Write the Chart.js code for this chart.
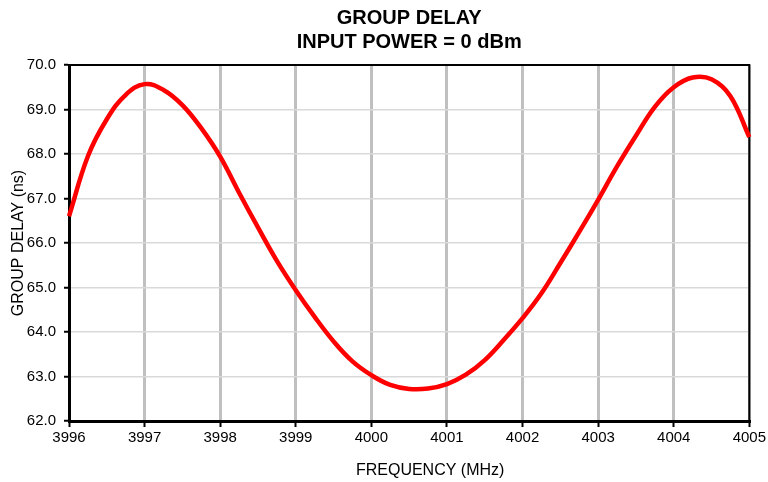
<!DOCTYPE html>
<html>
<head>
<meta charset="utf-8">
<script src="https://cdn.jsdelivr.net/npm/chart.js@4/dist/chart.umd.min.js"></script>
<style>
  html, body { margin: 0; padding: 0; background: #fff; }
  #wrap { width: 768px; height: 482px; }
</style>
</head>
<body>
<div id="wrap"><canvas id="c" width="768" height="482"></canvas></div>
<script>
const titleLines = ['GROUP DELAY', 'INPUT POWER = 0 dBm'];
const xTitle = 'FREQUENCY (MHz)';
const yTitle = 'GROUP DELAY (ns)';

const frequency = [
  3996.00, 3996.25, 3996.50, 3996.75, 3997.00, 3997.25, 3997.50, 3997.75,
  3998.00, 3998.25, 3998.50, 3998.75, 3999.00, 3999.25, 3999.50, 3999.75,
  4000.00, 4000.25, 4000.50, 4000.75, 4001.00, 4001.25, 4001.50, 4001.75,
  4002.00, 4002.25, 4002.50, 4002.75, 4003.00, 4003.25, 4003.50, 4003.75,
  4004.00, 4004.25, 4004.50, 4004.75, 4005.00
];
const groupDelay = [
  66.60, 67.95, 68.78, 69.33, 69.57, 69.44, 69.10, 68.58,
  67.94, 67.13, 66.35, 65.60, 64.94, 64.34, 63.79, 63.34,
  63.03, 62.81, 62.72, 62.73, 62.83, 63.04, 63.37, 63.82,
  64.31, 64.87, 65.55, 66.25, 66.97, 67.72, 68.41, 69.06,
  69.50, 69.72, 69.68, 69.30, 68.38
];

const FONT = "'Liberation Sans', Arial, Helvetica, sans-serif";

const frameTopRight = {
  id: 'frameTopRight',
  beforeDatasetsDraw(chart) {
    const a = chart.chartArea, ctx = chart.ctx;
    ctx.save();
    ctx.strokeStyle = '#000';
    ctx.lineWidth = 2;
    ctx.beginPath();
    ctx.moveTo(a.left, a.top);
    ctx.lineTo(a.right, a.top);
    ctx.lineTo(a.right, a.bottom);
    ctx.stroke();
    ctx.restore();
  }
};

// x-axis title, placed slightly right of the plot centre as in the reference
const xAxisTitle = {
  id: 'xAxisTitle',
  afterDraw(chart) {
    const a = chart.chartArea, ctx = chart.ctx;
    ctx.save();
    ctx.font = '16px ' + FONT;
    ctx.fillStyle = '#000';
    ctx.textAlign = 'center';
    ctx.textBaseline = 'middle';
    ctx.fillText(xTitle, (a.left + a.right) / 2 + 21, chart.height - 11);
    ctx.restore();
  }
};

new Chart(document.getElementById('c'), {
  type: 'line',
  data: {
    datasets: [{
      data: frequency.map((f, i) => ({ x: f, y: groupDelay[i] })),
      borderColor: '#ff0000',
      borderWidth: 4.5,
      pointRadius: 0,
      tension: 0.4,
      clip: 3
    }]
  },
  options: {
    responsive: false,
    animation: false,
    devicePixelRatio: 1,
    layout: { padding: { left: 0, right: 16, top: 0, bottom: 0 } },
    plugins: {
      legend: { display: false },
      tooltip: { enabled: false },
      title: {
        display: true,
        fullSize: false,
        text: titleLines,
        color: '#000',
        font: { family: FONT, size: 20, weight: 'bold', lineHeight: 1.2 },
        padding: { top: 6, bottom: 11 }
      }
    },
    scales: {
      x: {
        type: 'linear',
        min: 3996, max: 4005,
        afterFit(s) { s.height = 61; },
        ticks: {
          stepSize: 1,
          color: '#000',
          font: { family: FONT, size: 15 },
          padding: 2,
          maxRotation: 0,
          callback: v => String(v)
        },
        grid: {
          color: '#c0c0c0',
          lineWidth: 3,
          tickColor: '#000',
          tickLength: 6,
          tickWidth: 2
        },
        border: { display: true, color: '#000', width: 3 },
        title: { display: false, text: xTitle }
      },
      y: {
        type: 'linear',
        min: 62, max: 70,
        afterFit(s) { s.width = 69; },
        ticks: {
          stepSize: 1,
          color: '#000',
          font: { family: FONT, size: 15 },
          padding: 8,
          callback: v => Number(v).toFixed(1)
        },
        grid: {
          color: '#d9d9d9',
          lineWidth: 1.5,
          tickColor: '#000',
          tickLength: 5,
          tickWidth: 2
        },
        border: { display: true, color: '#000', width: 3 },
        title: {
          display: true,
          text: yTitle,
          color: '#000',
          font: { family: FONT, size: 16 },
          padding: { top: 9.4, bottom: 4 }
        }
      }
    }
  },
  plugins: [frameTopRight, xAxisTitle]
});
</script>
</body>
</html>
